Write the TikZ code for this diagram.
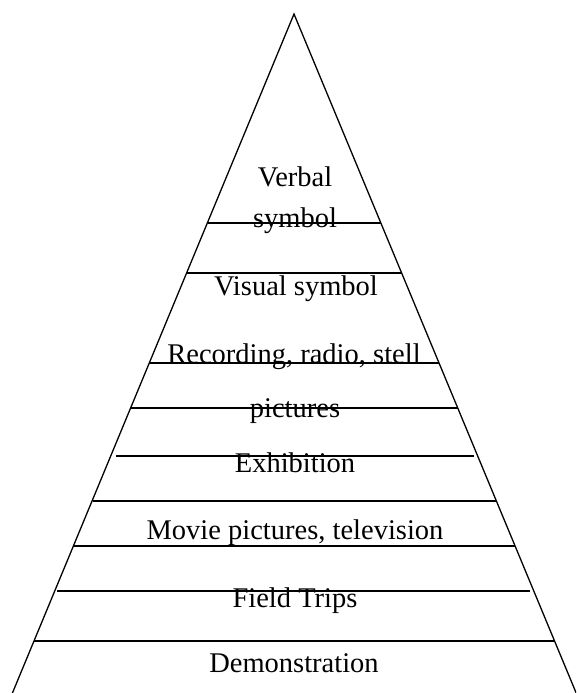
\documentclass[tikz,border=0pt]{standalone}
\usepackage{fontspec}
\setmainfont{Liberation Serif}
\begin{document}
\begin{tikzpicture}[x=1pt,y=-1pt,
  edge/.style={line width=1.3pt,line cap=round},
  lvl/.style={line width=1.3pt},
  lbl/.style={anchor=base,inner sep=0pt,font=\fontsize{28.5}{33}\selectfont}]
\useasboundingbox (0,0) rectangle (576,693);
\clip (0,0) rectangle (576,693);
\coordinate (apex) at (294,14);
\coordinate (bl) at (11.6,695);
\coordinate (br) at (577,695);
\draw[edge] (bl) -- (apex) -- (br);
% level lines
\draw[lvl] (207.5,223) -- (381,223);
\draw[lvl] (187,273) -- (401,273);
\draw[lvl] (149.5,363) -- (439,363);
\draw[lvl] (131,408) -- (458,408);
\draw[lvl] (116,456) -- (474,456);
\draw[lvl] (92.5,501) -- (496,501);
\draw[lvl] (74,546) -- (515,546);
\draw[lvl] (57,591) -- (530,591);
\draw[lvl] (34,641) -- (555,641);
% labels
\node[lbl] (verbal) at (295,186) {Verbal};
\node[lbl] (symbol) at (295,227) {symbol};
\node[lbl] (visual) at (296,295) {Visual symbol};
\node[lbl] (record) at (294,363) {Recording, radio, stell};
\node[lbl] (pict) at (295,417) {pictures};
\node[lbl] (exhib) at (295,472) {Exhibition};
\node[lbl] (movie) at (295,539) {Movie pictures, television};
\node[lbl] (field) at (295,607) {Field Trips};
\node[lbl] (demo) at (294,672) {Demonstration};
\end{tikzpicture}
\end{document}
